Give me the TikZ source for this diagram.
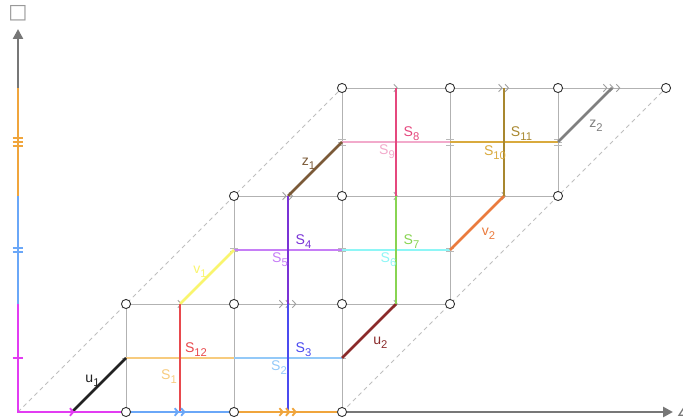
\documentclass[tikz,border=0pt]{standalone}
\usepackage{fontspec}
\setmainfont{Liberation Sans}
\newfontfamily\symfont{DejaVu Sans}
\usepackage{tikz}
\usetikzlibrary{arrows.meta}

\definecolor{cAx}{HTML}{777777}
\definecolor{cMag}{HTML}{E23CF2}
\definecolor{cBlu}{HTML}{6AA7F8}
\definecolor{cOra}{HTML}{F0A53C}
\definecolor{cSa}{HTML}{F7CB7E}
\definecolor{cSl}{HTML}{E8494D}
\definecolor{cSb}{HTML}{93C9F8}
\definecolor{cSc}{HTML}{4B4BF0}
\definecolor{cSd}{HTML}{7A33D6}
\definecolor{cSe}{HTML}{C67EF6}
\definecolor{cSf}{HTML}{8EF6F6}
\definecolor{cSg}{HTML}{88D452}
\definecolor{cSh}{HTML}{E5487E}
\definecolor{cSi}{HTML}{F2AACB}
\definecolor{cSj}{HTML}{D9AA3E}
\definecolor{cSk}{HTML}{A8872F}
\definecolor{cUa}{HTML}{222222}
\definecolor{cUb}{HTML}{8B2B2B}
\definecolor{cVa}{HTML}{F9F56E}
\definecolor{cVb}{HTML}{EA7B3E}
\definecolor{cZa}{HTML}{7B5A38}
\definecolor{cZb}{HTML}{808080}

\newcommand{\lbl}[2]{#1\raisebox{-0.55ex}{\footnotesize #2}}

\tikzset{
  gridline/.style={draw=gray!60, line width=0.7pt},
  diagline/.style={gray!50, line width=0.6pt, dash pattern=on 3pt off 2.5pt},
  seg/.style={line width=1.9pt},
  axis/.style={line width=2.1pt},
  vtx/.style={circle, draw=black!80, fill=white, line width=0.65pt, inner sep=0pt, minimum size=6.5pt},
  lab/.style={inner sep=0pt},
  pics/chev/.style={code={
    \foreach \k in {1,...,#1}{
      \pgfmathsetmacro{\dx}{(\k-(#1+1)/2)*0.06}
      \draw (\dx-0.02,0.035) -- (\dx+0.012,0) -- (\dx-0.02,-0.035);
    }}},
  pics/tck/.style={code={
    \foreach \k in {1,...,#1}{
      \pgfmathsetmacro{\dy}{(\k-(#1+1)/2)*0.037}
      \draw (-0.05,\dy) -- (0.05,\dy);
    }}},
  pics/gtck/.style={code={
    \foreach \k in {1,...,#1}{
      \pgfmathsetmacro{\dy}{(\k-(#1+1)/2)*0.028}
      \draw (-0.035,\dy) -- (0.035,\dy);
    }}},
}

\begin{document}
\begin{tikzpicture}[x=2.7cm, y=2.7cm]
  \useasboundingbox (-0.1667,-0.0648) rectangle (6.1574,3.8148);

  % 网格
  \foreach \r in {1,2,3} {
    \draw[gridline] (\r,\r) -- (\r+3,\r);
  }
  \foreach \c/\a/\b in {1/0/1, 2/0/2, 3/0/3, 4/1/3, 5/2/3} {
    \draw[gridline] (\c,\a) -- (\c,\b);
  }
  \draw[diagline] (0,0) -- (3,3);
  \draw[diagline] (3,0) -- (6,3);

  % 中点标记
  \foreach \c/\y/\n in {1/0.5/1, 2/0.5/1, 3/0.5/1, 2/1.5/2, 3/1.5/2, 4/1.5/2, 3/2.5/3, 4/2.5/3, 5/2.5/3} {
    \pic[gray!55, line width=0.6pt] at (\c,\y) {gtck=\n};
  }
  \foreach \x/\y/\n in {1.5/1/1, 2.5/1/3, 3.5/1/1, 2.5/2/2, 3.5/2/1, 4.5/2/1, 3.5/3/1, 4.5/3/2, 5.5/3/3} {
    \pic[gray!75, line width=0.65pt] at (\x,\y) {chev=\n};
  }

  % 横线
  \foreach \col/\xa/\xb/\y in {cSa/1/2/0.5, cSb/2/3/0.5, cSe/2/3/1.5, cSf/3/4/1.5, cSi/3/4/2.5, cSj/4/5/2.5} {
    \draw[seg, \col] (\xa,\y) -- (\xb,\y);
  }
  % 斜线
  \foreach \col/\x/\y in {cUa/0.5/0, cUb/3/0.5, cVa/1.5/1, cVb/4/1.5, cZa/2.5/2, cZb/5/2.5} {
    \draw[seg, \col] (\x,\y) -- (\x+0.5,\y+0.5);
  }
  % 竖线
  \foreach \col/\x/\ya/\yb in {cSl/1.5/0/1, cSc/2.5/0/1, cSd/2.5/1/2, cSg/3.5/1/2, cSh/3.5/2/3, cSk/4.5/2/3} {
    \draw[seg, \col] (\x,\ya) -- (\x,\yb);
  }

  % 坐标轴
  \draw[axis, cMag] (0,1) -- (0,0) -- (1,0);
  \draw[axis, cBlu] (1,0) -- (2,0);
  \draw[axis, cOra] (2,0) -- (3,0);
  \draw[axis, cBlu] (0,1) -- (0,2);
  \draw[axis, cOra] (0,2) -- (0,3);
  \draw[axis, cAx, -{Triangle[length=7pt, width=7pt]}] (3,0) -- (6.065,0);
  \draw[axis, cAx, -{Triangle[length=7pt, width=7pt]}] (0,3) -- (0,3.546);
  \foreach \col/\k/\n in {cMag/0.5/1, cBlu/1.5/2, cOra/2.5/3} {
    \pic[\col, line width=1.3pt] at (\k,0) {chev=\n};
    \pic[\col, line width=1.3pt] at (0,\k) {tck=\n};
  }

  % 顶点
  \foreach \c/\r in {1/0, 2/0, 3/0, 1/1, 2/1, 3/1, 4/1, 2/2, 3/2, 5/2, 3/3, 4/3, 5/3, 6/3} {
    \node[vtx] (v\c\r) at (\c,\r) {};
  }

  % 标签
  \foreach \col/\x/\y/\t/\s in {
    cUa/0.690/0.287/u/1, cSa/1.398/0.324/S/1, cSl/1.648/0.574/S/12,
    cSb/2.417/0.407/S/2, cSc/2.644/0.574/S/3, cUb/3.356/0.643/u/2,
    cVa/1.685/1.296/v/1, cSd/2.644/1.579/S/4, cSe/2.426/1.407/S/5,
    cSf/3.430/1.407/S/6, cSg/3.644/1.579/S/7, cVb/4.356/1.648/v/2,
    cZa/2.690/2.296/z/1, cSh/3.644/2.574/S/8, cSi/3.417/2.412/S/9,
    cSj/4.417/2.398/S/10, cSk/4.662/2.579/S/11, cZb/5.366/2.648/z/2
  } {
    \node[lab, text=\col] (l\t\s) at (\x,\y) {\lbl{\t}{\s}};
  }
  \node[text=cAx!75, font=\symfont\Large, inner sep=0pt] (sq) at (0,3.69) {□};
  \node[anchor=west, text=cAx, font=\symfont, inner sep=0pt] (ang) at (6.095,0.01) {∠};
\end{tikzpicture}
\end{document}
